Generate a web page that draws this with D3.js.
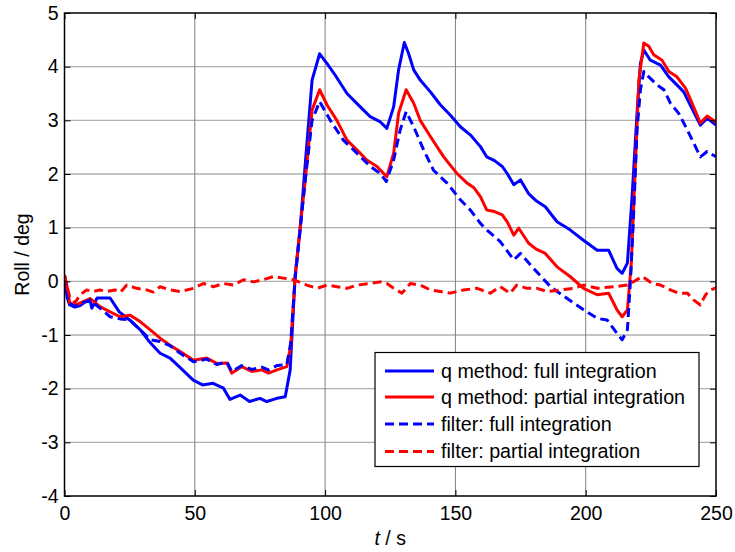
<!DOCTYPE html>
<html>
<head>
<meta charset="utf-8">
<script src="https://cdn.jsdelivr.net/npm/d3@7"></script>
<style>
html,body{margin:0;padding:0;background:#fff;}
svg{display:block;font-family:Arial,"Liberation Sans",sans-serif;}
</style>
</head>
<body>
<svg id="chart" width="735" height="552"></svg>
<script>
// ---------- data ----------
const xTicks = [0, 50, 100, 150, 200, 250];
const yTicks = [-4, -3, -2, -1, 0, 1, 2, 3, 4, 5];
const seriesNames = ["q method: full integration", "q method: partial integration", "filter: full integration", "filter: partial integration"];

const tQFull = [0,1,2,4,6,8,9.8,10.5,12.5,17.5,21,25,29,33,36.7,40.5,44,49.4,53,57,61,63.5,67.4,71,75,77.6,81.5,84.7,86.6,88.5,90.4,92.4,95,97.9,100.7,103.9,108.4,113.5,117.3,121.2,123.7,126.3,128.2,130.4,132,134,136.5,140.4,144.2,148,151.9,155.7,159.6,162,165,168,170,172.4,175,178,181,184.5,189,194,199,204.4,208.8,212,214,216,217.8,219.7,221,222.3,224.8,228.7,231.9,235,237.6,240.8,244,246.6,250];
const vQFull = [0.1,-0.3,-0.44,-0.48,-0.45,-0.38,-0.35,-0.5,-0.31,-0.31,-0.57,-0.72,-0.9,-1.15,-1.34,-1.43,-1.59,-1.84,-1.93,-1.9,-1.99,-2.2,-2.12,-2.24,-2.18,-2.24,-2.18,-2.15,-1.65,0.09,0.96,2.2,3.75,4.24,4.06,3.84,3.5,3.25,3.07,2.97,2.85,3.25,3.94,4.45,4.25,3.94,3.75,3.53,3.29,3.1,2.88,2.73,2.51,2.32,2.25,2.14,2.0,1.8,1.89,1.64,1.5,1.39,1.11,0.96,0.77,0.58,0.58,0.24,0.15,0.34,1.58,3.14,4.06,4.31,4.12,4.03,3.81,3.66,3.53,3.22,2.91,3.04,2.91];

const tQPart = [0,1,2,4,7.2,9.8,13.6,17.5,21.3,25.2,29,32.8,36.7,40.5,44.4,49.5,54.6,58.4,62.3,64.2,68,71.9,75.7,78.3,81.5,85.3,86.8,88.5,90.4,92.4,95,97.9,100.7,104.5,108.4,112.2,116,119.9,123.7,126.3,128.2,131.1,134,136.5,140.4,145.5,150.6,154.5,157,159.6,162,165,168,170,172.4,174.3,178.1,181,184.5,189,194,199.2,204.4,208.8,212,214,216,217.5,219.1,220.4,222.3,224.2,226.1,229.3,231.9,235,238.3,240.8,244,246.6,250];
const vQPart = [0.1,-0.1,-0.4,-0.45,-0.38,-0.32,-0.47,-0.57,-0.66,-0.63,-0.75,-0.9,-1.06,-1.19,-1.31,-1.47,-1.43,-1.53,-1.52,-1.71,-1.59,-1.68,-1.65,-1.71,-1.65,-1.59,-1.2,0.1,1.0,1.89,3.19,3.57,3.29,3.0,2.63,2.45,2.26,2.14,1.95,2.39,3.13,3.57,3.32,3.0,2.7,2.32,2.01,1.83,1.75,1.58,1.33,1.3,1.24,1.1,0.86,0.99,0.71,0.6,0.52,0.27,0.09,-0.13,-0.25,-0.22,-0.53,-0.66,-0.53,0.34,2.2,3.75,4.44,4.38,4.22,4.12,3.91,3.81,3.6,3.32,2.95,3.08,2.97];

const tFFull = [0,1,2,4,7,9.8,13.6,17.5,21.3,25,29,33,36.7,40.5,44.4,49.5,54.6,58.4,62.3,64.2,68,71.9,75.7,78.3,81.5,85.3,86.8,88.5,90.4,92.4,95,97.9,102,107,112.2,117.3,121.2,123.5,126.3,128.8,131.1,134,137.8,141.6,146.8,151.9,155.7,159.6,162,167.2,172.4,175,180,186.5,192.9,199.2,204.4,208.2,212,214,216,217.2,218.4,219.7,221,222.3,224.2,227.4,230,232.5,235.7,239,241.5,244,246.6,250];
const vFFull = [0.1,-0.2,-0.4,-0.47,-0.4,-0.35,-0.5,-0.66,-0.7,-0.72,-0.9,-1.09,-1.12,-1.2,-1.34,-1.5,-1.45,-1.55,-1.5,-1.68,-1.57,-1.64,-1.6,-1.65,-1.57,-1.55,-1.15,0.05,0.95,1.9,3.0,3.35,3.0,2.63,2.39,2.14,2.01,1.86,2.26,2.82,3.16,2.88,2.45,2.07,1.83,1.52,1.33,1.08,0.96,0.74,0.4,0.52,0.24,-0.1,-0.32,-0.53,-0.69,-0.72,-0.97,-1.09,-0.9,0.03,1.27,2.82,3.57,3.91,3.81,3.66,3.57,3.32,3.13,2.82,2.57,2.32,2.42,2.32];

const tFPart = [0,1,2,4,6,8.5,11,13.6,16.2,19.4,21.5,23.9,27.7,31.6,34,36.7,40.5,44.4,49.5,53.3,57.1,61,64.8,68.7,72.5,76.3,80.2,84,87.9,93,96.9,100.7,104.5,108.4,112.2,117.3,121.2,123.7,126.3,129.5,132.7,136.5,140.4,144.2,148,153.1,158.3,163.4,167.2,171,173.6,177.5,181.3,185.2,190.3,195.4,199.2,204.4,210.8,216,217.2,221.7,225.5,228.7,232.5,235.7,239,241.5,244,246,248,250];
const vFPart = [0.12,-0.1,-0.29,-0.4,-0.25,-0.16,-0.19,-0.16,-0.19,-0.16,-0.2,-0.07,-0.13,-0.16,-0.2,-0.1,-0.16,-0.19,-0.13,-0.04,-0.1,-0.04,-0.07,0.03,-0.01,0.03,0.09,0.06,0.03,-0.07,-0.13,-0.07,-0.1,-0.13,-0.07,-0.04,-0.01,-0.04,-0.13,-0.22,-0.04,-0.07,-0.16,-0.19,-0.22,-0.16,-0.13,-0.22,-0.1,-0.22,-0.07,-0.13,-0.13,-0.19,-0.16,-0.13,-0.07,-0.13,-0.1,-0.07,-0.04,0.09,-0.04,-0.07,-0.16,-0.22,-0.22,-0.35,-0.44,-0.25,-0.16,-0.12];

// ---------- layout ----------
const svg = d3.select("#chart");
const L = 64.5, R = 716, T = 13, B = 496;
const x = d3.scaleLinear().domain([0, 250]).range([L, R]);
const y = d3.scaleLinear().domain([-4, 5]).range([B, T]);

// grid
const grid = svg.append("g");
grid.selectAll("line.h").data(yTicks.filter(v => v > -4 && v < 5)).enter().append("line")
  .attr("x1", L).attr("x2", R).attr("y1", d => y(d)).attr("y2", d => y(d))
  .attr("stroke", "#b0b0b0").attr("stroke-width", 1.3);
grid.selectAll("line.v").data(xTicks.filter(v => v > 0 && v < 250)).enter().append("line")
  .attr("y1", T).attr("y2", B).attr("x1", d => x(d)).attr("x2", d => x(d))
  .attr("stroke", "#808080").attr("stroke-width", 1);

// clip
svg.append("clipPath").attr("id", "clip").append("rect")
  .attr("x", L).attr("y", T).attr("width", R - L).attr("height", B - T);

const series = [
  {t: tQFull, v: vQFull, color: "#0000ff", dash: null},
  {t: tQPart, v: vQPart, color: "#ff0000", dash: null},
  {t: tFFull, v: vFFull, color: "#0000ff", dash: "9,5"},
  {t: tFPart, v: vFPart, color: "#ff0000", dash: "9,5"}
];
const line = d3.line().x(d => x(d[0])).y(d => y(d[1]));
const plot = svg.append("g").attr("clip-path", "url(#clip)");
series.forEach(s => {
  const pts = s.t.map((t, i) => [t, s.v[i]]);
  plot.append("path").datum(pts).attr("d", line)
    .attr("fill", "none").attr("stroke", s.color).attr("stroke-width", 3)
    .attr("stroke-linejoin", "round")
    .attr("stroke-dasharray", s.dash);
});

// axes (MATLAB style: box, inward ticks on all sides)
const tickLen = 6;
const fmt = d => String(d);
const axB = d3.axisBottom(x).tickValues(xTicks).tickSize(-tickLen).tickPadding(10).tickFormat(fmt);
const axT = d3.axisTop(x).tickValues(xTicks).tickSize(-tickLen).tickFormat("");
const axLft = d3.axisLeft(y).tickValues(yTicks).tickSize(-tickLen).tickPadding(6).tickFormat(fmt);
const axRgt = d3.axisRight(y).tickValues(yTicks).tickSize(-tickLen).tickFormat("");
function style(g) {
  g.select(".domain").remove();
  g.selectAll(".tick line").attr("stroke", "#000").attr("stroke-width", 1);
  g.selectAll(".tick text").attr("fill", "#000").attr("font-size", 19.5)
    .attr("font-family", "Arial, 'Liberation Sans', sans-serif");
}
svg.append("g").attr("transform", `translate(0,${B})`).call(axB).call(style);
svg.append("g").attr("transform", `translate(0,${T})`).call(axT).call(style);
svg.append("g").attr("transform", `translate(${L},0)`).call(axLft).call(style);
svg.append("g").attr("transform", `translate(${R},0)`).call(axRgt).call(style);
svg.append("rect").attr("x", L).attr("y", T).attr("width", R - L).attr("height", B - T)
  .attr("fill", "none").attr("stroke", "#000").attr("stroke-width", 1.5);

// labels
const xl = svg.append("text").attr("x", (L + R) / 2).attr("y", 545).attr("text-anchor", "middle")
  .attr("font-size", 19.5).attr("fill", "#000");
xl.append("tspan").attr("font-style", "italic").text("t");
xl.append("tspan").text(" / s");
svg.append("text").attr("transform", `translate(29,${(T + B) / 2}) rotate(-90)`)
  .attr("text-anchor", "middle").attr("font-size", 19.5).attr("fill", "#000").text("Roll / deg");

// legend
const lg = svg.append("g");
lg.append("rect").attr("x", 375).attr("y", 352.5).attr("width", 324).attr("height", 114)
  .attr("fill", "#fff").attr("stroke", "#000").attr("stroke-width", 1.2);
const rowY = [371, 397, 424, 451.5];
series.forEach((s, i) => {
  lg.append("line").attr("x1", 385).attr("x2", 434).attr("y1", rowY[i]).attr("y2", rowY[i])
    .attr("stroke", s.color).attr("stroke-width", 3).attr("stroke-dasharray", s.dash);
  lg.append("text").attr("x", 441).attr("y", rowY[i]).attr("dy", "0.35em")
    .attr("font-size", 19.7).attr("fill", "#000").text(seriesNames[i]);
});
</script>
</body>
</html>
